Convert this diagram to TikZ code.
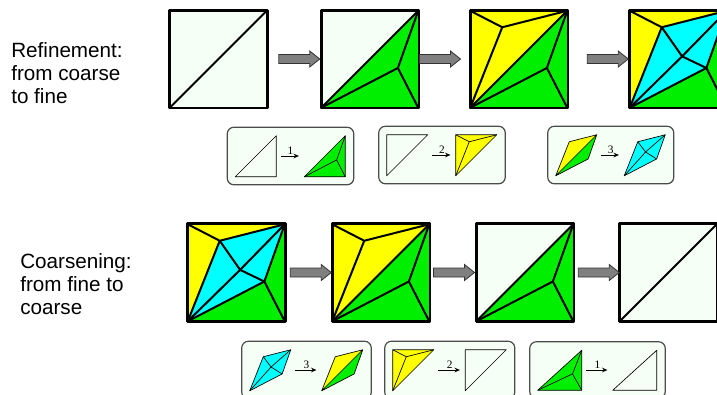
\documentclass[tikz,border=0pt]{standalone}
\usepackage{fontspec}
\setmainfont{Liberation Sans}
\newfontfamily\numfont{Liberation Serif}
\usetikzlibrary{arrows.meta,calc,fit,backgrounds}
\definecolor{cpale}{HTML}{F5FFF5}
\definecolor{cgreen}{HTML}{00EE00}
\definecolor{cyellow}{HTML}{FFFF00}
\definecolor{ccyan}{HTML}{00FFFF}
\definecolor{arrgray}{HTML}{808080}
\definecolor{boxedge}{gray}{0.30}
\tikzset{
  sq/.style     = {rectangle, fill=cpale, minimum size=72.75pt, inner sep=0pt},
  patch/.style  = {rectangle, minimum width=\pw, minimum height=\ph, inner sep=0pt},
  sqedge/.style = {draw=black, line width=1.9pt, line join=round},
  meshln/.style = {draw=black, line width=1.5pt, line join=round, line cap=round},
  miniln/.style = {draw=black, line width=0.5pt, line join=round},
  garr/.style   = {fill=arrgray, draw=black!80, line width=0.6pt},
  marr/.style   = {-{Stealth[length=4pt,width=3.5pt]}, line width=0.7pt,
                   shorten <=3pt, shorten >=4pt},
  num/.style    = {font=\numfont\fontsize{8.5}{9}\selectfont, above, inner sep=0.8pt},
  mbox/.style   = {draw=boxedge, line width=0.9pt, fill=cpale,
                   rounded corners=5pt, inner sep=6pt},
  lbl/.style    = {font=\fontsize{15.5}{17}\selectfont, align=left,
                   inner sep=0pt, anchor=base west},
}
\newcommand{\pw}{30.75pt}
\newcommand{\ph}{30.75pt}
\newcommand{\mesh}[2]{%                 % #1 = square node, #2 = level 0..3
  \begin{scope}[shift={(#1.south west)}, x=72.75pt, y=72.75pt]
    \coordinate (P) at (0.79,0.41);
    \coordinate (Q) at (0.33,0.83);
    \coordinate (R) at (0.54,0.53);
    \ifnum#2>0 \fill[cgreen] (0,0) -- (1,0) -- (1,1) -- cycle; \fi
    \ifnum#2>1 \fill[cyellow] (0,0) -- (0,1) -- (1,1) -- cycle; \fi
    \ifnum#2>2 \fill[ccyan] (0,0) -- (Q) -- (1,1) -- (P) -- cycle; \fi
    \ifnum#2<3 \draw[meshln] (0,0) -- (1,1); \fi
    \ifnum#2>0 \draw[meshln] (0,0) -- (P) -- (1,0) (P) -- (1,1); \fi
    \ifnum#2>1 \draw[meshln] (0,0) -- (Q) -- (0,1) (Q) -- (1,1); \fi
    \ifnum#2>2 \draw[meshln] (0,0) -- (R) -- (1,1) (Q) -- (R) -- (P); \fi
  \end{scope}
  \draw[sqedge] (#1.south west) rectangle (#1.north east);}
\newcommand{\patch}[2]{%                % #1 = patch node, #2 = kind 0..5
  \begin{scope}[shift={(#1.south west)}, x=\pw, y=\ph]
    \coordinate (P) at (0.79,0.41);
    \coordinate (Q) at (0.33,0.83);
    \coordinate (R) at (0.52,0.58);
    \ifcase#2
      \draw[miniln, fill=cpale] (0,0) -- (1,0) -- (1,1) -- cycle;
    \or
      \draw[miniln, fill=cgreen] (0,0) -- (1,0) -- (1,1) -- cycle;
      \draw[miniln] (0,0) -- (P) -- (1,0) (P) -- (1,1);
    \or
      \draw[miniln, fill=cpale] (0,0) -- (0,1) -- (1,1) -- cycle;
    \or
      \draw[miniln, fill=cyellow] (0,0) -- (0,1) -- (1,1) -- cycle;
      \draw[miniln] (0,0) -- (Q) -- (0,1) (Q) -- (1,1);
    \or
      \fill[cyellow] (0,0) -- (Q) -- (1,1) -- cycle;
      \fill[cgreen] (0,0) -- (1,1) -- (P) -- cycle;
      \draw[miniln] (0,0) -- (Q) -- (1,1) -- (P) -- cycle (0,0) -- (1,1);
    \or
      \draw[miniln, fill=ccyan] (0,0) -- (Q) -- (1,1) -- (P) -- cycle;
      \draw[miniln] (0,0) -- (R) -- (1,1) (Q) -- (R) -- (P);
    \fi
  \end{scope}}
\newcommand{\garrow}[3]{%               % #1 = from, #2 = to, #3 = shift
  \coordinate (gm) at ($(#1.east)!0.5!(#2.west)+(#3,0)$);
  \filldraw[garr] ($(gm)+(-20.5,-4.5)$) -- ++(31,0) -- ++(0,-3.5) -- ++(10,8)
    -- ++(-10,8) -- ++(0,-3.5) -- ++(-31,0) -- cycle;}

\begin{document}
\begin{tikzpicture}[x=0.75pt, y=-0.75pt]
  \useasboundingbox (0,0) rectangle (717,394);

  % refinement
  \node[lbl] (tref) at (11,103) {Refinement:\\from coarse\\to fine};
  \node[sq] (r0) at (218.5,59) {};
  \node[sq] (r1) at (370,59) {};
  \node[sq] (r2) at (519,59) {};
  \node[sq] (r3) at (678.5,59) {};
  \mesh{r0}{0} \mesh{r1}{1} \mesh{r2}{2} \mesh{r3}{3}
  \garrow{r0}{r1}{5} \garrow{r1}{r2}{-4.5} \garrow{r2}{r3}{9}

  \node[patch] (a1) at (256,156) {};
  \node[patch] (b1) at (325,156) {};
  \node[patch] (a2) at (407.5,155) {};
  \node[patch] (b2) at (476.5,155) {};
  \node[patch] (a3) at (576.5,155) {};
  \node[patch] (b3) at (645,155) {};
  \begin{scope}[on background layer]
    \node[mbox, fit=(a1)(b1)] (box1) {};
    \node[mbox, fit=(a2)(b2)] (box2) {};
    \node[mbox, fit=(a3)(b3)] (box3) {};
  \end{scope}
  \patch{a1}{0} \patch{b1}{1}
  \patch{a2}{2} \patch{b2}{3}
  \patch{a3}{4} \patch{b3}{5}
  \draw[marr] (a1) -- node[num] {1} (b1);
  \draw[marr] (a2) -- node[num] {2} (b2);
  \draw[marr] (a3) -- node[num] {3} (b3);

  % coarsening
  \node[lbl] (tcoa) at (20,314) {Coarsening:\\from fine to\\coarse};
  \node[sq] (c0) at (236.5,272.5) {};
  \node[sq] (c1) at (381,272.5) {};
  \node[sq] (c2) at (525,272.5) {};
  \node[sq] (c3) at (668.5,272.5) {};
  \mesh{c0}{3} \mesh{c1}{2} \mesh{c2}{1} \mesh{c3}{0}
  \garrow{c0}{c1}{2} \garrow{c1}{c2}{1} \garrow{c2}{c3}{2}

  \node[patch] (d1) at (270.5,370) {};
  \node[patch] (e1) at (342.5,370) {};
  \node[patch] (d2) at (413.5,370) {};
  \node[patch] (e2) at (486,370) {};
  \renewcommand{\pw}{33pt}%
  \renewcommand{\ph}{30pt}%
  \node[patch] (d3) at (560,370) {};
  \node[patch] (e3) at (635,370) {};
  \begin{scope}[on background layer]
    \node[mbox, fit=(d1)(e1)] (box4) {};
    \node[mbox, fit=(d2)(e2)] (box5) {};
    \node[mbox, fit=(d3)(e3)] (box6) {};
  \end{scope}
  \patch{d3}{1} \patch{e3}{0}
  \renewcommand{\pw}{30.75pt}%
  \renewcommand{\ph}{30.75pt}%
  \patch{d1}{5} \patch{e1}{4}
  \patch{d2}{3} \patch{e2}{2}
  \draw[marr] (d1) -- node[num] {3} (e1);
  \draw[marr] (d2) -- node[num] {2} (e2);
  \draw[marr] (d3) -- node[num] {1} (e3);
\end{tikzpicture}
\end{document}
